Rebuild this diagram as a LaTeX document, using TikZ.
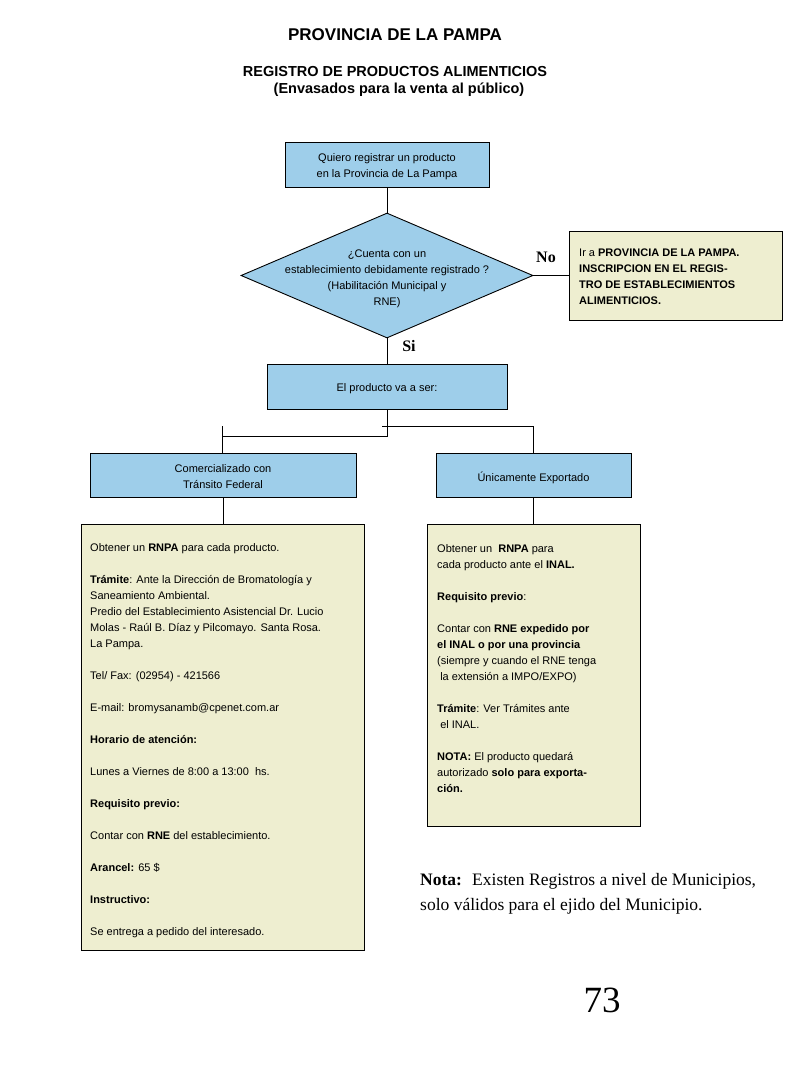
\documentclass[tikz,border=0pt]{standalone}
\usepackage{fontspec}
\setmainfont{Liberation Serif}
\setsansfont{Liberation Sans}
\usetikzlibrary{shapes.geometric}
\definecolor{boxblue}{RGB}{158,206,234}
\definecolor{boxyellow}{RGB}{238,238,208}
\begin{document}
\begin{tikzpicture}[x=1pt,y=-1pt,
  line/.style={draw=black,line width=0.9pt},
  bluebox/.style={draw=black,line width=0.9pt,fill=boxblue,rectangle,inner sep=0pt,align=center,font=\sffamily\fontsize{11}{16}\selectfont},
  yelbox/.style={draw=black,line width=0.9pt,fill=boxyellow,rectangle,inner sep=0pt},
  boxtext/.style={inner sep=0pt,align=left,anchor=north west,font=\sffamily\fontsize{11}{16}\selectfont},
  ctext/.style={inner sep=0pt,align=center,font=\sffamily\fontsize{11}{16}\selectfont},
  ynlabel/.style={font=\rmfamily\bfseries\fontsize{16}{18}\selectfont,inner sep=0pt}]
\useasboundingbox[fill=white] (0,0) rectangle (800,1066);

% titles
\node[font=\sffamily\bfseries\fontsize{17}{20}\selectfont,inner sep=0pt] (t1) at (395,35) {PROVINCIA DE LA PAMPA};
\node[font=\sffamily\bfseries\fontsize{14.5}{18}\selectfont,inner sep=0pt] (t2) at (395,72) {REGISTRO DE PRODUCTOS ALIMENTICIOS};
\node[font=\sffamily\bfseries\fontsize{14.5}{18}\selectfont,inner sep=0pt] (t3) at (399,90) {(Envasados para la venta al público)};

% flow boxes
\node[bluebox,minimum width=204pt,minimum height=45pt] (q) at (387,164.5) {};
\node[ctext] (qt) at (387,167) {Quiero registrar un producto\\en la Provincia de La Pampa};
\node[diamond,draw=black,line width=0.9pt,fill=boxblue,minimum width=292pt,minimum height=125pt,inner sep=0pt] (d) at (387,275.5) {};
\node[ctext] (dt) at (387,279) {¿Cuenta con un\\establecimiento debidamente registrado ?\\(Habilitación Municipal y\\RNE)};
\node[yelbox,minimum width=213pt,minimum height=89pt] (nob) at (675.5,275.5) {};
\node[boxtext] (nobt) at (579,245) {\strut Ir a \textbf{PROVINCIA DE LA PAMPA.}\\\textbf{INSCRIPCION EN EL REGIS-}\\\textbf{TRO DE ESTABLECIMIENTOS}\\\textbf{ALIMENTICIOS.}};
\node[ynlabel] (no) at (546,257) {No};
\node[ynlabel] (si) at (409,346) {Si};

\node[bluebox,minimum width=240pt,minimum height=45pt] (p) at (387,386.5) {};
\node[ctext] (pt) at (387,389) {El producto va a ser:};
\node[bluebox,minimum width=266pt,minimum height=44pt] (c) at (223,475) {};
\node[ctext] (ct) at (223,477) {Comercializado con\\Tránsito Federal};
\node[bluebox,minimum width=195pt,minimum height=44pt] (e) at (533.5,475) {};
\node[ctext] (et) at (533.5,478) {Únicamente Exportado};

\node[yelbox,minimum width=283pt,minimum height=426pt] (L) at (222.5,737) {};
\node[yelbox,minimum width=213pt,minimum height=302pt] (R) at (533.5,675) {};

% connectors
\coordinate (pmid) at (387,436);
\coordinate (lmid) at (222,436);
\coordinate (ltop) at (222,426);
\coordinate (rstart) at (382,426);
\coordinate (rcorner) at (533,426);
\draw[line] (q.south) -- (d.north);
\draw[line] (d.east) -- (nob.west);
\draw[line] (d.south) -- (p.north);
\draw[line] (p.south) -- (pmid) -- (lmid);
\draw[line] (ltop) -- (ltop |- c.north);
\draw[line] (rstart) -- (rcorner) -- (rcorner |- e.north);
\draw[line] (c.south) -- (c.south |- L.north);
\draw[line] (e.south) -- (e.south |- R.north);

% box texts
\node[boxtext] (Lt) at (90,540) {\strut Obtener un \textbf{RNPA} para cada producto.\\[16pt]
\textbf{Trámite}: Ante la Dirección de Bromatología y\\
Saneamiento Ambiental.\\
Predio del Establecimiento Asistencial Dr. Lucio\\
Molas - Raúl B. Díaz y Pilcomayo. Santa Rosa.\\
La Pampa.\\[16pt]
Tel/ Fax: (02954) - 421566\\[16pt]
E-mail: bromysanamb@cpenet.com.ar\\[16pt]
\textbf{Horario de atención:}\\[16pt]
Lunes a Viernes de 8:00 a 13:00 \ hs.\\[16pt]
\textbf{Requisito previo:}\\[16pt]
Contar con \textbf{RNE} del establecimiento.\\[16pt]
\textbf{Arancel:} 65 \$\\[16pt]
\textbf{Instructivo:}\\[16pt]
Se entrega a pedido del interesado.};

\node[boxtext] (Rt) at (437,541) {\strut Obtener un \ \textbf{RNPA} para\\
cada producto ante el \textbf{INAL.}\\[16pt]
\textbf{Requisito previo}:\\[16pt]
Contar con \textbf{RNE expedido por}\\
\textbf{el INAL o por una provincia}\\
(siempre y cuando el RNE tenga\\
\ la extensión a IMPO/EXPO)\\[16pt]
\textbf{Trámite}: Ver Trámites ante\\
\ el INAL.\\[16pt]
\textbf{NOTA:} El producto quedará\\
autorizado \textbf{solo para exporta-}\\
\textbf{ción.}};

% note and page number
\node[inner sep=0pt,align=left,anchor=north west,font=\rmfamily\fontsize{17.5}{25}\selectfont] (nota) at (420,867.5) {\strut\textbf{Nota:} \ Existen Registros a nivel de Municipios,\\solo válidos para el ejido del Municipio.};
\node[inner sep=0pt,font=\rmfamily\fontsize{37}{40}\selectfont] (pg) at (602,1000) {73};
\end{tikzpicture}
\end{document}
